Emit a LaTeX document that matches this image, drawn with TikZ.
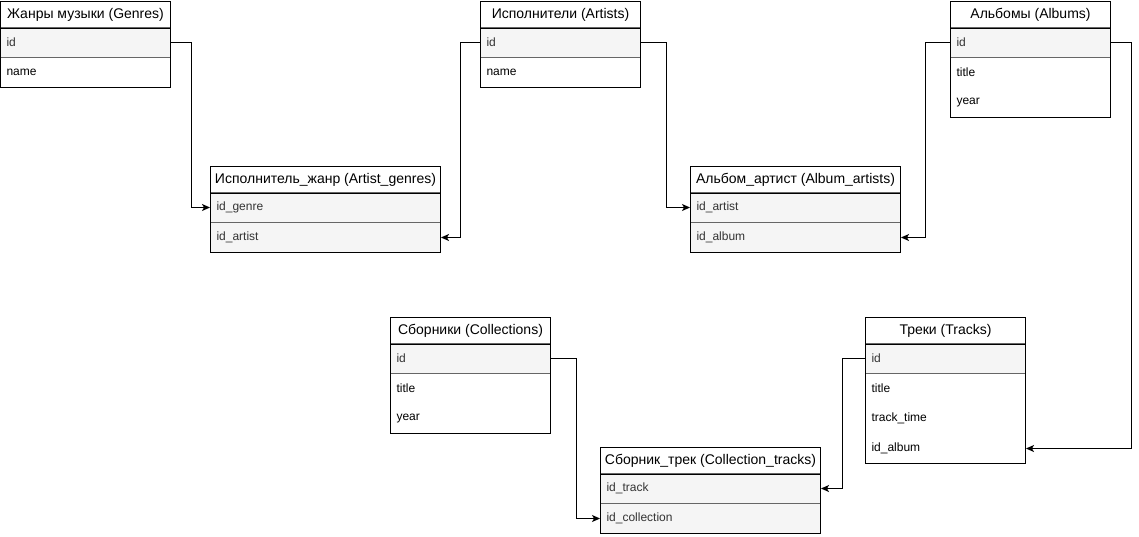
\documentclass[tikz,border=0pt]{standalone}
\usepackage{fontspec}
\setmainfont{Liberation Sans}
\usetikzlibrary{arrows.meta}
\catcode`\_=12

\definecolor{rowgray}{HTML}{F5F5F5}
\definecolor{rowline}{HTML}{666666}
\definecolor{rowtext}{HTML}{333333}
\newcount\rowcount

\tikzset{
  head/.style={anchor=north west, minimum height=26pt, inner sep=0pt,
    font=\fontsize{14}{16}\selectfont},
  plainrow/.style={anchor=north west, minimum height=30pt, inner xsep=6pt,
    inner ysep=0pt, align=left},
  keyrow/.style={plainrow, fill=rowgray, draw=rowline, text=rowtext},
  link/.style={-{Stealth[length=8pt,width=7pt,inset=2pt]}}
}

\begin{document}
\begin{tikzpicture}[x=1pt, y=-1pt, line width=1pt,
    nodes = {font=\fontsize{12}{14}\selectfont}]
  \useasboundingbox (0,0) rectangle (1139,536);
  % tables: name / x / y / width / rows / title
  \foreach \tbl/\tx/\ty/\tbw/\rowlist/\ttl in {
      genres/0/1/170/{keyrow/id,plainrow/name}/{Жанры музыки (Genres)},
      artists/480/1/160/{keyrow/id,plainrow/name}/{Исполнители (Artists)},
      albums/950/1/160/{keyrow/id,plainrow/title,plainrow/year}/{Альбомы (Albums)},
      agenres/210/166/230/{keyrow/id_genre,keyrow/id_artist}/{Исполнитель_жанр (Artist_genres)},
      aartists/690/166/210/{keyrow/id_artist,keyrow/id_album}/{Альбом_артист (Album_artists)},
      collections/390/317/160/{keyrow/id,plainrow/title,plainrow/year}/{Сборники (Collections)},
      tracks/865/317/160/{keyrow/id,plainrow/title,plainrow/track_time,plainrow/id_album}/{Треки (Tracks)},
      ctracks/600/447/220/{keyrow/id_track,keyrow/id_collection}/{Сборник_трек (Collection_tracks)}
    } {
      \global\rowcount=0
      \pgfmathsetmacro\txtw{\tbw-12}
      \node[head, minimum width=\tbw pt] (\tbl) at (\tx,\ty) {\ttl};
      \foreach \rkind/\rtext [count=\ri] in \rowlist {
        \global\advance\rowcount by 1
        \pgfmathsetmacro\ry{\ty+26+30*(\ri-1)}
        \node[\rkind, text width=\txtw pt] (\tbl-\ri) at (\tx,\ry) {\rtext};
      }
      \pgfmathsetmacro\tblh{26+30*\the\rowcount}
      \draw (\tbl.south west) -- (\tbl.south east);
      \draw (\tx,\ty) rectangle ++(\tbw,\tblh);
    };
  % relations
  \draw[link] (genres-1.east) -- ++(20,0) |- (agenres-1.west);
  \draw[link] (artists-1.west) -- ++(-20,0) |- (agenres-2.east);
  \draw[link] (artists-1.east) -- ++(25,0) |- (aartists-1.west);
  \draw[link] (albums-1.west) -- ++(-25,0) |- (aartists-2.east);
  \draw[link] (albums-1.east) -- ++(20,0) |- (tracks-4.east);
  \draw[link] (collections-1.east) -- ++(25,0) |- (ctracks-2.west);
  \draw[link] (tracks-1.west) -- ++(-23,0) |- (ctracks-1.east);
\end{tikzpicture}
\end{document}
